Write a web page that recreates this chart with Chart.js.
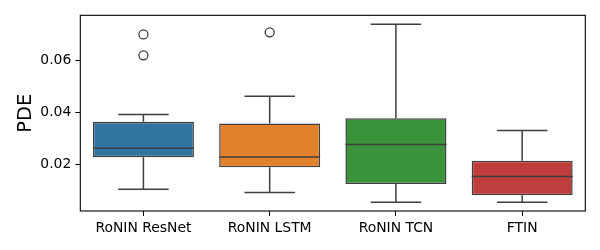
<!DOCTYPE html>
<html>
<head>
<meta charset="utf-8">
<script src="https://cdn.jsdelivr.net/npm/chart.js@4.4.1/dist/chart.umd.min.js"></script>
<style>
  html, body { margin: 0; padding: 0; background: #fff; }
  #wrap { width: 600px; height: 250px; }
</style>
</head>
<body>
<div id="wrap"><canvas id="box" width="600" height="250"></canvas></div>
<script>
/* seaborn-style boxplot: boxes are floating bars, whiskers/medians by plugin */
const categories = ["RoNIN ResNet", "RoNIN LSTM", "RoNIN TCN", "FTIN"];
const whiskerLow  = [0.0102, 0.0090, 0.0052, 0.0052];
const q1          = [0.0226, 0.0187, 0.0123, 0.0079];
const median      = [0.0261, 0.0227, 0.0276, 0.0152];
const q3          = [0.0364, 0.0357, 0.0377, 0.0213];
const whiskerHigh = [0.0392, 0.0462, 0.0741, 0.0330];
const outliers    = [[0.0621, 0.0702], [0.0710], [], []];
const yTicks      = [0.02, 0.04, 0.06];
const boxColors   = ["#3274a1", "#e1812c", "#3a923a", "#c03d3e"];

const LINE = "#3f3f3f";
const FONT = "'DejaVu Sans', sans-serif";

const outlierPoints = [];
outliers.forEach((vals, i) => vals.forEach(v => outlierPoints.push({ x: categories[i], y: v })));

const BoxExtras = {
  id: "boxExtras",
  afterDatasetsDraw(chart) {
    const { ctx, chartArea } = chart;
    const xs = chart.scales.x, ys = chart.scales.y;
    const step = xs.width / categories.length;
    ctx.save();
    ctx.strokeStyle = LINE;
    ctx.lineWidth = 1.5;
    categories.forEach((c, i) => {
      const cx = xs.getPixelForValue(i);
      const half = step * 0.4, cap = step * 0.2;
      const yl = ys.getPixelForValue(whiskerLow[i]);
      const y1 = ys.getPixelForValue(q1[i]);
      const y3 = ys.getPixelForValue(q3[i]);
      const yh = ys.getPixelForValue(whiskerHigh[i]);
      const ym = ys.getPixelForValue(median[i]);
      ctx.beginPath();
      ctx.moveTo(cx, y1); ctx.lineTo(cx, yl);
      ctx.moveTo(cx - cap, yl); ctx.lineTo(cx + cap, yl);
      ctx.moveTo(cx, y3); ctx.lineTo(cx, yh);
      ctx.moveTo(cx - cap, yh); ctx.lineTo(cx + cap, yh);
      ctx.moveTo(cx - half, ym); ctx.lineTo(cx + half, ym);
      ctx.stroke();
    });
    // frame (all four spines)
    ctx.strokeStyle = "#000";
    ctx.lineWidth = 1.1;
    ctx.strokeRect(chartArea.left, chartArea.top, chartArea.right - chartArea.left, chartArea.bottom - chartArea.top);
    ctx.restore();
  },
};

new Chart(document.getElementById("box"), {
  type: "bar",
  data: {
    labels: categories,
    datasets: [
      { type: "bar", data: q1.map((v, i) => [v, q3[i]]), backgroundColor: boxColors,
        borderColor: LINE, borderWidth: 1.5, borderSkipped: false,
        barPercentage: 0.8, categoryPercentage: 1.0, order: 2 },
      { type: "line", data: outlierPoints, showLine: false, pointRadius: 4.5,
        pointBorderWidth: 1.3, pointBackgroundColor: "rgba(0,0,0,0)", pointBorderColor: LINE, order: 1 },
    ],
  },
  options: {
    responsive: false, animation: false,
    layout: { padding: { left: 0, right: 14.7, top: 15.3, bottom: 0 } },
    plugins: { legend: { display: false }, tooltip: { enabled: false } },
    scales: {
      x: {
        offset: true,
        grid: { display: true, offset: false, drawOnChartArea: false, drawTicks: true, tickLength: 5, tickColor: "#000" },
        border: { display: false },
        ticks: { color: "#000", padding: 4, font: { family: FONT, size: 13.9 }, maxRotation: 0 },
        afterFit(s) { s.height = 39; },
      },
      y: {
        min: 0.0018, max: 0.0776,
        afterBuildTicks(s) { s.ticks = yTicks.map(v => ({ value: v })); },
        grid: { display: true, drawOnChartArea: false, drawTicks: true, tickLength: 5, tickColor: "#000" },
        border: { display: false },
        ticks: { color: "#000", padding: 4, font: { family: FONT, size: 13.9 },
                 callback: v => v.toFixed(2) },
        title: { display: true, text: "PDE", color: "#000", font: { family: FONT, size: 19.5 }, padding: { top: 14, bottom: 0 } },
        afterFit(s) { s.width = 80.3; },
      },
    },
  },
  plugins: [BoxExtras],
});
</script>
</body>
</html>
